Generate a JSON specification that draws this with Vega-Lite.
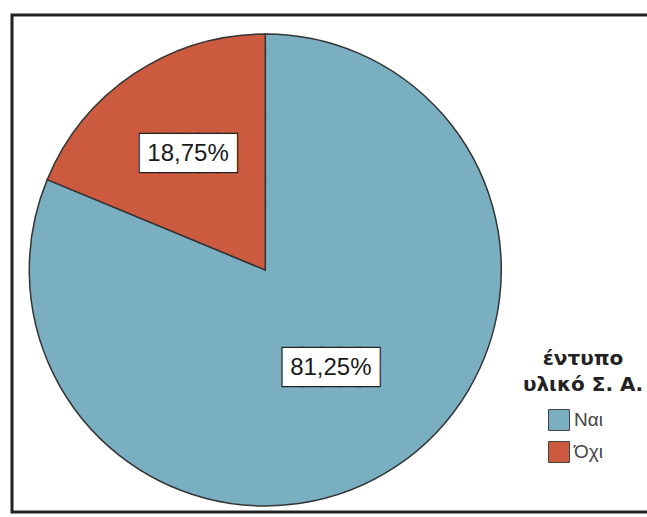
{
  "$schema": "https://vega.github.io/schema/vega-lite/v6.json",
  "autosize": {"type": "fit", "contains": "padding"},
  "width": 647,
  "height": 517,
  "padding": {"left": 10, "top": 13, "right": -5, "bottom": 3},
  "background": "white",
  "config": {"view": {"stroke": null}},
  "data": {"values": [
    {"k": "Ναι", "v": 81.25, "label": "81,25%"},
    {"k": "Όχι", "v": 18.75, "label": "18,75%"}
  ]},
  "layer": [
    {
      "data": {"values": [{"frame": 1}]},
      "mark": {"type": "rect", "fill": null, "fillOpacity": 0, "stroke": "#222", "strokeWidth": 3},
      "encoding": {}
    },
    {
      "mark": {"type": "arc", "outerRadius": 236, "x": {"expr": "width*0.397"}, "y": {"expr": "height*0.513"}, "stroke": "#333", "strokeWidth": 1.5},
      "encoding": {
        "theta": {"field": "v", "type": "quantitative", "stack": true},
        "order": {"field": "v", "type": "quantitative", "sort": "descending"},
        "color": {
          "field": "k", "type": "nominal",
          "scale": {"domain": ["Ναι", "Όχι"], "range": ["#7aafc2", "#cb5a3f"]},
          "legend": {
            "title": ["έντυπο", "υλικό Σ. Α."],
            "orient": "none", "legendX": 511, "legendY": 334,
            "padding": 0,
            "titleAnchor": "middle", "titleAlign": "center",
            "titleFont": "DejaVu Sans", "titleFontWeight": "bold", "titleFontSize": 20,
            "titleColor": "#222", "titleLineHeight": 26, "titlePadding": 14,
            "titleBaseline": "top",
            "symbolType": "square", "symbolSize": 441, "symbolOffset": -16,
            "symbolStrokeColor": "#444", "symbolStrokeWidth": 1, "symbolOpacity": 1,
            "labelOffset": 4, "labelFont": "Liberation Sans", "labelFontSize": 19,
            "labelColor": "#444", "rowPadding": 6
          }
        }
      }
    },
    {
      "mark": {"type": "text", "font": "DejaVu Sans Mono", "fontSize": 32, "fill": "white", "stroke": "#222", "strokeWidth": 2.5, "baseline": "middle", "align": "center",
        "x": {"expr": "width*0.397"}, "y": {"expr": "height*0.513"},
        "radius": {"expr": "datum.k === 'Όχι' ? 139 : 118"}},
      "encoding": {
        "theta": {"field": "v", "type": "quantitative", "stack": true},
        "order": {"field": "v", "type": "quantitative", "sort": "descending"},
        "detail": {"field": "k", "type": "nominal"},
        "text": {"value": "█████"}
      }
    },
    {
      "mark": {"type": "text", "font": "DejaVu Sans Mono", "fontSize": 32, "fill": "white", "baseline": "middle", "align": "center",
        "x": {"expr": "width*0.397"}, "y": {"expr": "height*0.513"},
        "radius": {"expr": "datum.k === 'Όχι' ? 139 : 118"}},
      "encoding": {
        "theta": {"field": "v", "type": "quantitative", "stack": true},
        "order": {"field": "v", "type": "quantitative", "sort": "descending"},
        "detail": {"field": "k", "type": "nominal"},
        "text": {"value": "█████"}
      }
    },
    {
      "mark": {"type": "text", "font": "Liberation Sans", "fontSize": 24, "fill": "#1a1a1a", "baseline": "middle", "align": "center",
        "x": {"expr": "width*0.397"}, "y": {"expr": "height*0.513"},
        "radius": {"expr": "datum.k === 'Όχι' ? 139 : 118"}},
      "encoding": {
        "theta": {"field": "v", "type": "quantitative", "stack": true},
        "order": {"field": "v", "type": "quantitative", "sort": "descending"},
        "detail": {"field": "k", "type": "nominal"},
        "text": {"field": "label"}
      }
    }
  ]
}
